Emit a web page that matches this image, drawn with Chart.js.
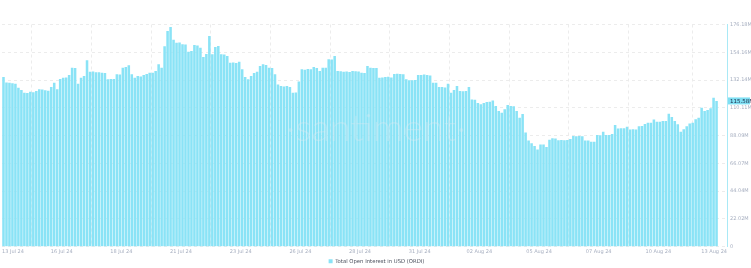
<!DOCTYPE html>
<html>
<head>
<meta charset="utf-8">
<script src="https://cdn.jsdelivr.net/npm/chart.js@4.4.1/dist/chart.umd.min.js"></script>
<style>
  html, body { margin: 0; padding: 0; background: #fff; }
  #wrap { width: 751px; height: 268px; position: relative; }
</style>
</head>
<body>
<div id="wrap"><canvas id="oiChart"></canvas></div>
<script>
// Total open interest (USD, millions), 3h bars, 13 Jul -> 13 Aug 2024
const oiValues = [
  134.5, 130.2, 130.0, 129.6, 129.2, 126.0, 124.2, 122.1, 121.8, 122.8,
  122.5, 123.4, 124.8, 124.6, 124.0, 123.6, 126.6, 130.0, 124.8, 133.0,
  134.0, 134.2, 136.1, 141.9, 141.7, 129.2, 134.0, 135.3, 147.8, 138.7,
  138.9, 138.4, 138.3, 137.9, 137.7, 132.7, 132.9, 133.0, 136.7, 136.5,
  141.9, 142.4, 143.8, 136.7, 134.0, 135.3, 134.9, 136.1, 136.9, 137.9,
  138.0, 139.3, 144.6, 141.9, 159.0, 171.0, 174.2, 164.0, 161.7, 161.9,
  160.5, 160.3, 154.6, 155.2, 159.9, 159.5, 157.8, 150.4, 152.8, 167.1,
  152.5, 158.4, 159.1, 152.5, 152.3, 151.2, 145.9, 146.0, 145.6, 146.7,
  140.6, 134.5, 132.7, 135.3, 137.7, 138.7, 143.2, 144.6, 144.0, 141.9,
  141.7, 136.7, 128.7, 127.4, 127.0, 127.4, 126.6, 122.1, 122.3, 131.0,
  140.6, 140.4, 140.8, 140.6, 142.4, 141.7, 139.3, 141.9, 141.8, 148.6,
  148.4, 151.2, 139.3, 139.1, 138.7, 138.9, 138.5, 139.3, 139.1, 138.9,
  137.9, 137.7, 143.2, 141.9, 141.7, 141.6, 134.0, 134.2, 134.5, 134.7,
  134.1, 136.9, 137.1, 136.9, 136.8, 132.7, 131.9, 132.0, 132.2, 136.1,
  136.2, 136.5, 136.1, 135.7, 130.0, 129.9, 126.6, 126.7, 126.2, 129.2,
  122.1, 124.2, 127.4, 123.4, 123.3, 123.5, 126.6, 116.8, 116.6, 113.9,
  112.9, 113.9, 114.7, 114.9, 116.0, 111.5, 107.5, 106.2, 108.9, 112.3,
  111.5, 111.3, 107.5, 102.2, 105.2, 90.5, 84.3, 82.1, 79.8, 77.1,
  81.1, 81.0, 79.0, 84.8, 85.9, 85.7, 84.5, 84.7, 84.4, 84.6,
  85.3, 87.7, 87.5, 87.8, 87.6, 84.3, 84.3, 83.2, 83.3, 88.5,
  88.4, 91.1, 88.5, 88.6, 89.3, 96.4, 93.8, 93.9, 94.0, 95.1,
  93.0, 93.1, 92.9, 95.6, 95.7, 97.2, 98.2, 98.3, 100.9, 99.0,
  99.1, 99.6, 99.6, 105.4, 102.8, 99.6, 97.0, 91.1, 93.2, 95.6,
  97.6, 98.2, 101.1, 102.2, 110.2, 107.5, 108.3, 109.7, 118.1, 115.58
];

const xTickLabels = [
  '13 Jul 24', '16 Jul 24', '18 Jul 24', '21 Jul 24', '23 Jul 24', '26 Jul 24',
  '28 Jul 24', '31 Jul 24', '02 Aug 24', '05 Aug 24', '07 Aug 24', '10 Aug 24',
  '13 Aug 24'
];
const yTickLabels = ['0', '22.02M', '44.04M', '66.07M', '88.09M', '110.11M', '132.14M', '154.16M', '176.18M'];
const yStep = 22.0225;
const barsPerTick = 20;
const lastLabel = '115.58M';
const seriesName = 'Total Open Interest in USD (ORDI)';

const barColor = '#8ae3f6';
const xMax = oiValues.length + 2.5;

const lastValuePlugin = {
  id: 'lastValue',
  afterDraw(chart) {
    const ctx = chart.ctx;
    const y = chart.scales.y;
    const py = y.getPixelForValue(oiValues[oiValues.length - 1]);
    const left = chart.chartArea.right + 1;
    ctx.save();
    ctx.fillStyle = '#7fdff3';
    ctx.fillRect(left, py - 3.5, 22, 7);
    ctx.fillStyle = '#1c2a4a';
    ctx.font = '5.5px "DejaVu Sans"';
    ctx.textBaseline = 'middle';
    ctx.fillText(lastLabel, left + 2, py + 0.3);
    ctx.restore();
  }
};

// faint brand watermark over the bars
const watermarkPlugin = {
  id: 'watermark',
  afterDatasetsDraw(chart) {
    const ctx = chart.ctx;
    ctx.save();
    ctx.fillStyle = 'rgba(220, 233, 240, 0.35)';
    ctx.font = '300 38px Lato';
    ctx.textAlign = 'center';
    ctx.textBaseline = 'alphabetic';
    ctx.fillText('·santiment·', 376, 141);
    ctx.restore();
  }
};

new Chart(document.getElementById('oiChart'), {
  type: 'bar',
  data: {
    datasets: [{
      label: seriesName,
      data: oiValues.map((v, i) => ({ x: i, y: v })),
      backgroundColor: barColor,
      borderWidth: 0,
      barPercentage: 0.85,
      categoryPercentage: 1
    }]
  },
  options: {
    responsive: true,
    maintainAspectRatio: false,
    animation: false,
    layout: { padding: { top: 24.5, left: 2, right: 0, bottom: -6 } },
    plugins: {
      tooltip: { enabled: false },
      legend: {
        position: 'bottom',
        labels: {
          boxWidth: 4,
          boxHeight: 4,
          padding: 2,
          color: '#4a4f5c',
          font: { size: 5.3, family: 'DejaVu Sans' }
        }
      }
    },
    scales: {
      x: {
        type: 'linear',
        min: -0.5,
        max: xMax,
        offset: false,
        afterBuildTicks(scale) {
          scale.ticks = xTickLabels.map((l, k) => ({
            value: k < xTickLabels.length - 1 ? -0.5 + k * barsPerTick : xMax
          }));
        },
        afterFit(scale) { scale.height = 10; },
        ticks: {
          autoSkip: false,
          maxRotation: 0,
          align: 'inner',
          padding: 2,
          color: '#a7afc0',
          font: { size: 5, family: 'DejaVu Sans' },
          callback: (value, index) => xTickLabels[index]
        },
        grid: { color: '#ececec', drawTicks: false },
        border: { display: false, dash: [3, 3] }
      },
      y: {
        position: 'right',
        min: 0,
        max: yStep * (yTickLabels.length - 1),
        afterBuildTicks(scale) {
          scale.ticks = yTickLabels.map((l, k) => ({ value: k * yStep }));
        },
        afterFit(scale) { scale.width = 24; },
        ticks: {
          padding: 3,
          color: '#a7afc0',
          font: { size: 5, family: 'DejaVu Sans' },
          callback: (value, index) => yTickLabels[index]
        },
        grid: { color: '#ececec', drawTicks: false },
        border: { display: true, color: '#a9e9f6', width: 1, dash: [3, 3] }
      }
    }
  },
  plugins: [lastValuePlugin, watermarkPlugin]
});
</script>
</body>
</html>
